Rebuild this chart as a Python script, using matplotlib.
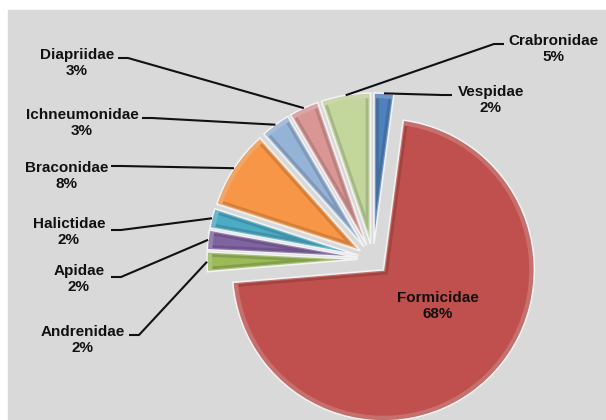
# Insect families pie chart (exploded, Excel style)

import numpy as np
import matplotlib.pyplot as plt
import matplotlib.colors as mcolors
from matplotlib.patches import Rectangle, Wedge

plt.rcParams['font.family'] = ['Liberation Sans', 'DejaVu Sans']

families = ['Vespidae', 'Formicidae', 'Andrenidae', 'Apidae', 'Halictidae',
            'Braconidae', 'Ichneumonidae', 'Diapriidae', 'Crabronidae']
percent = [2, 68, 2, 2, 2, 8, 3, 3, 5]
colors = ['#4F81BD', '#C0504D', '#9BBB59', '#8064A2', '#4BACC6',
          '#F79646', '#95B3D7', '#D99694', '#C3D69B']

# label centres and leader starting points, in pixels from top-left
label_xy = [(491, 100), (438, 306), (83, 340), (79, 279), (69, 232),
            (67, 176), (82, 123), (77, 63), (553, 49)]
stub_xy = [(452, 95), None, (129, 335), (111, 277), (111, 230),
           (111, 166), (142, 118), (118, 58), (504, 44)]

W, H = 606, 420


def lighten(c, amount):
    rgb = np.array(mcolors.to_rgb(c))
    return tuple(rgb + (1 - rgb) * amount)


def darken(c, amount):
    rgb = np.array(mcolors.to_rgb(c))
    return tuple(rgb * (1 - amount))


fig = plt.figure(figsize=(W / 100, H / 100), dpi=100)
ax = fig.add_axes([0, 0, 1, 1])

# explode is in data units here (radius is in pixels)
wedges, _ = ax.pie(percent, colors=colors, startangle=90, counterclock=False,
                   explode=[15] * len(percent), radius=151,
                   center=(373, H - 259),
                   wedgeprops=dict(edgecolor='none', zorder=2))

# fake bevel: soft dark rim and light inner highlight, clipped to each wedge
for w, c in zip(wedges, colors):
    rim = Wedge(w.center, w.r, w.theta1, w.theta2, fill=False,
                edgecolor=darken(c, 0.15), lw=7, zorder=3)
    rim.set_clip_path(w)
    ax.add_patch(rim)
    hi = Wedge(w.center, w.r - 3, w.theta1, w.theta2, fill=False,
               edgecolor=lighten(c, 0.25), lw=3, alpha=0.8, zorder=3)
    hi.set_clip_path(w)
    ax.add_patch(hi)
    edge = Wedge(w.center, w.r, w.theta1, w.theta2, fill=False,
                 edgecolor='#f2f2f2', lw=1.2, zorder=3)
    ax.add_patch(edge)

for w, name, p, lxy, sxy in zip(wedges, families, percent, label_xy, stub_xy):
    ax.text(lxy[0], H - lxy[1], f'{name}\n{p}%', ha='center', va='center',
            fontsize=11, fontweight='bold', color='#111111',
            linespacing=1.25, zorder=5)
    if sxy is None:
        continue
    mid = np.deg2rad((w.theta1 + w.theta2) / 2)
    ax_, ay_ = (w.center[0] + w.r * np.cos(mid),
                w.center[1] + w.r * np.sin(mid))
    sx, sy = sxy[0], H - sxy[1]
    step = 10 if sx < ax_ else -10
    ax.plot([sx, sx + step, ax_], [sy, sy, ay_], color='#111111', lw=1.5,
            solid_capstyle='butt', zorder=4)

ax.add_patch(Rectangle((8, 0), W - 8, H - 10, color='#d9d9d9', zorder=0))
ax.set_xlim(0, W)
ax.set_ylim(0, H)
ax.set_aspect('equal')
ax.axis('off')
fig.patch.set_facecolor('white')

plt.savefig('out.png', dpi=100)
